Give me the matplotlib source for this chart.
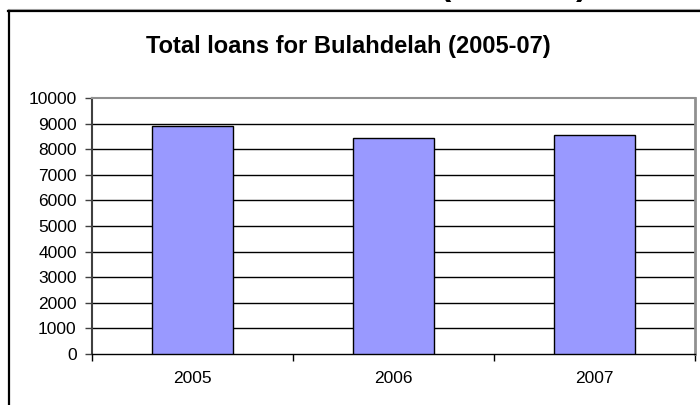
import matplotlib
matplotlib.use("Agg")
import matplotlib.pyplot as plt
from matplotlib.lines import Line2D

plt.rcParams['font.family'] = ['Liberation Sans', 'DejaVu Sans']

years = ["2005", "2006", "2007"]
loans = [8920, 8450, 8550]
y_ticks = list(range(0, 10001, 1000))
title = "Total loans for Bulahdelah (2005-07)"

W, H = 700, 405
fig = plt.figure(figsize=(W / 100, H / 100), dpi=100)
fig.patch.set_facecolor("white")


def fx(px):
    return px / W


def fy(py):
    return 1 - py / H


# page heading above the chart frame (only its lower edge reaches the page)
fig.text(fx(587), fy(-4.5), title, ha="right", va="baseline",
         fontsize=24.5, fontweight="bold", color="black")

# chart frame
fig.add_artist(Line2D([fx(8), fx(702)], [fy(9), fy(9)], color="#b0b0b0", lw=0.8,
                      transform=fig.transFigure))
fig.add_artist(Line2D([fx(8), fx(702)], [fy(10.5), fy(10.5)], color="black", lw=1.6,
                      transform=fig.transFigure))
fig.add_artist(Line2D([fx(8.5), fx(8.5)], [fy(10.5), fy(410)], color="black", lw=1.6,
                      transform=fig.transFigure))

ax = fig.add_axes([fx(92), fy(354), fx(695) - fx(92), fy(98) - fy(354)])
x = list(range(len(years)))
ax.bar(x, loans, width=0.4, color="#9999ff", edgecolor="black", linewidth=1.0, zorder=3)

ax.set_xlim(-0.5, len(years) - 0.5)
ax.set_ylim(0, 10000)
ax.set_yticks(y_ticks)
ax.set_yticklabels([str(v) for v in y_ticks], fontsize=12.5)
ax.set_xticks(x)
ax.set_xticklabels(years, fontsize=12.5)
ax.set_xticks([i - 0.5 for i in range(len(years) + 1)], minor=True)

for v in y_ticks[1:-1]:
    ax.axhline(v, color="black", lw=1.0, zorder=1)

ax.spines["top"].set_color("#909090")
ax.spines["right"].set_color("#909090")
ax.spines["top"].set_linewidth(1.5)
ax.spines["right"].set_linewidth(2.0)
ax.spines["left"].set_color("#404040")
ax.spines["left"].set_linewidth(1.5)
ax.spines["bottom"].set_color("black")
ax.spines["bottom"].set_linewidth(1.0)

ax.tick_params(axis="y", direction="out", length=5, width=1, color="#404040", pad=6)
ax.tick_params(axis="x", which="major", length=0, pad=12)
ax.tick_params(axis="x", which="minor", direction="out", length=5, width=1, color="black")

fig.text(fx(348), fy(47), title, ha="center", va="center",
         fontsize=17, fontweight="bold", color="black")

fig.savefig("out.png", dpi=100, facecolor="white")
